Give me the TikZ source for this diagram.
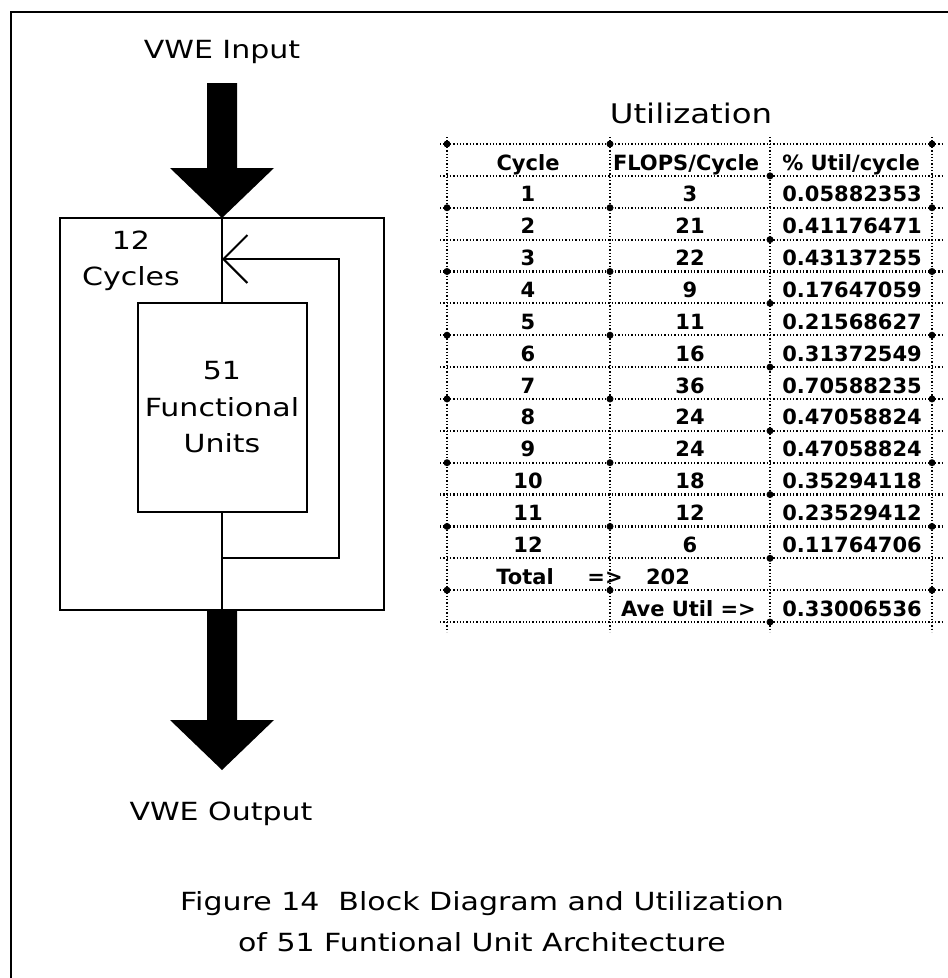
\documentclass[tikz,border=0pt]{standalone}
\usepackage{fontspec}
\setmainfont{DejaVu Sans}[FakeStretch=1.2]
\newfontfamily\tabfont{DejaVu Sans}
\usetikzlibrary{arrows.meta,calc}

\begin{document}
\begin{tikzpicture}[x=1pt,y=-1pt,
  lbl/.style={font=\fontsize{25}{36.5}\selectfont,align=center,inner sep=0pt},
  cell/.style={font=\tabfont\bfseries\fontsize{21}{25}\selectfont,inner sep=0pt,anchor=base},
  dotline/.style={line width=2.2pt,dash pattern=on 1.3pt off 2pt},
  blk/.style={draw,line width=2pt,inner sep=0pt},
  wire/.style={line width=2pt}]
  \useasboundingbox (0,0) rectangle (948,978);
  \draw[wire] (948,12) -- (11,12) -- (11,978);

  \node[lbl,anchor=base] (inlbl) at (222,58) {VWE Input};
  \fill (207,83) -- (237,83) -- (237,168) -- (274,168) -- (222,218) -- (170,168) -- (207,168) -- cycle;
  \node[blk,minimum width=324pt,minimum height=392pt] (cycbox) at (222,414) {};
  \node[blk,lbl,minimum width=169pt,minimum height=209pt] (fubox) at (222,407.5) {51\\Functional\\Units};
  \node[lbl] (cyclbl) at (131,261) {12\\Cycles};
  \coordinate (fbbot) at (222,558);
  \coordinate (fbtop) at (222,259);
  \draw[wire] (cycbox.north) -- (fubox.north);
  \draw[wire] (fubox.south) -- (cycbox.south);
  \draw[wire,-{Straight Barb[length=24pt,width=48pt]}] (fbbot) -- ++(117,0) |- (fbtop);
  \fill (207,610) -- (237,610) -- (237,720) -- (274,720) -- (222,770) -- (170,720) -- (207,720) -- cycle;
  \node[lbl,anchor=base] (outlbl) at (221,820) {VWE Output};

  \node[lbl,anchor=base,font=\fontsize{27}{30}\selectfont] (uttl) at (691,123) {Utilization};
  \foreach \i in {0,...,15}
    \draw[dotline] (440,{144+31.87*\i}) -- (942,{144+31.87*\i});
  \foreach \x in {447,610,770,932}
    \draw[dotline] (\x,137) -- (\x,632);
  \foreach \i in {0,...,15}{
    \ifodd\i \fill (770,{144+31.87*\i}) circle (3.5pt);
    \else \foreach \x in {447,610,932} \fill (\x,{144+31.87*\i}) circle (3.5pt); \fi}
  \node[cell] (hcyc) at (528,170) {Cycle};
  \node[cell] (hflp) at (686,170) {FLOPS/Cycle};
  \node[cell,anchor=base east] (hutl) at (920,170) {\% Util/cycle};
  \foreach \c/\f/\u [count=\i] in {1/3/0.05882353,2/21/0.41176471,3/22/0.43137255,
      4/9/0.17647059,5/11/0.21568627,6/16/0.31372549,7/36/0.70588235,8/24/0.47058824,
      9/24/0.47058824,10/18/0.35294118,11/12/0.23529412,12/6/0.11764706}{
    \node[cell] (cyc\c) at (528,{170+31.87*\i}) {\c};
    \node[cell] (flp\c) at (690,{170+31.87*\i}) {\f};
    \node[cell,anchor=base east] (utl\c) at (922,{170+31.87*\i}) {\u};
  }
  \node[cell] (totlbl) at (525,584) {Total};
  \node[cell] (totarr) at (605,584) {=>};
  \node[cell] (totval) at (668,584) {202};
  \node[cell,anchor=base east] (avelbl) at (756,616) {Ave Util =>};
  \node[cell,anchor=base east] (aveval) at (922,616) {0.33006536};

  \node[lbl,font=\fontsize{25}{41}\selectfont] (capt) at (482,922) {Figure 14\ \ Block Diagram and Utilization\\of 51 Funtional Unit Architecture};
\end{tikzpicture}
\end{document}
